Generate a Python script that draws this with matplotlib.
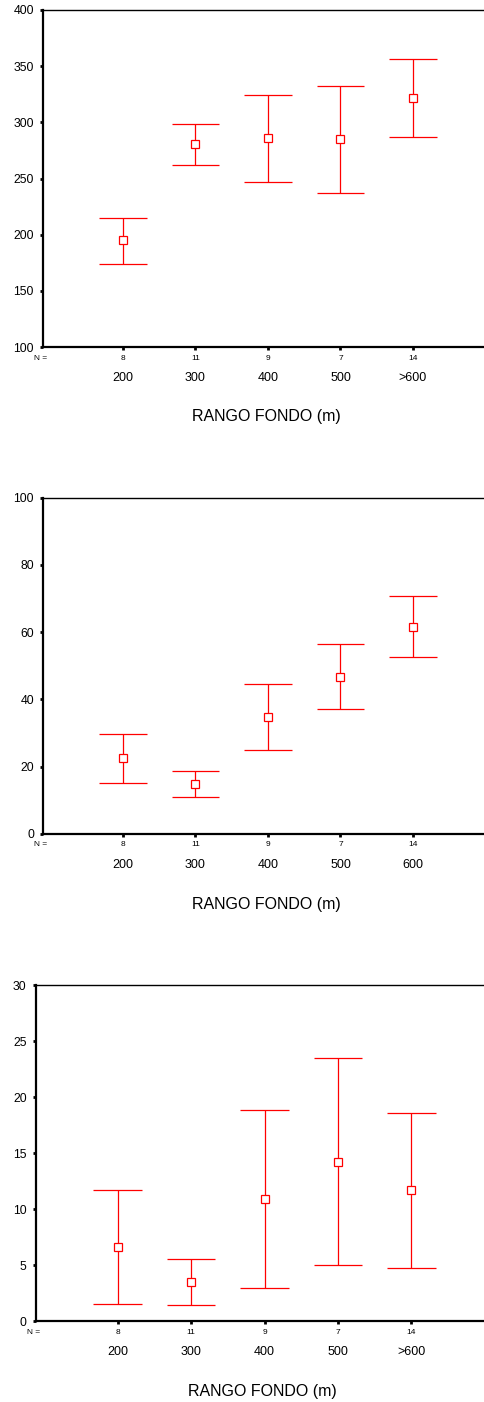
import matplotlib.pyplot as plt

plt.rcParams['font.family'] = ['Liberation Sans', 'DejaVu Sans']

# datos (media y limites del intervalo)
n_counts = [8, 11, 9, 7, 14]
cats_a = ["200", "300", "400", "500", ">600"]
cats_b = ["200", "300", "400", "500", "600"]

mean_1 = [195.0, 280.6, 286.0, 285.0, 321.6]
low_1 = [174.3, 262.2, 246.5, 237.2, 287.1]
high_1 = [215.0, 298.7, 324.6, 332.0, 356.0]

mean_2 = [22.7, 15.0, 34.8, 46.7, 61.6]
low_2 = [15.3, 11.1, 25.1, 37.3, 52.6]
high_2 = [29.6, 18.8, 44.6, 56.5, 70.7]

mean_3 = [6.6, 3.54, 10.95, 14.2, 11.7]
low_3 = [1.55, 1.46, 3.0, 5.0, 4.8]
high_3 = [11.7, 5.6, 18.9, 23.5, 18.6]

RED = "#ff0000"
W, H = 484, 1402


def panel(fig, rect_px, xlim, ylim, yticks, cats, mean, low, high):
    left, top, bottom = rect_px
    ax = fig.add_axes([left / W, 1 - bottom / H, 1 - left / W, (bottom - top) / H])
    pos = list(range(1, len(cats) + 1))

    ax.vlines(pos, low, high, color=RED, lw=0.9, zorder=2)
    ax.hlines(low, [p - 0.33 for p in pos], [p + 0.33 for p in pos], color=RED, lw=0.9, zorder=2)
    ax.hlines(high, [p - 0.33 for p in pos], [p + 0.33 for p in pos], color=RED, lw=0.9, zorder=2)
    ax.plot(pos, mean, ls="none", marker="s", ms=5.2, mfc="white", mec=RED, mew=0.9, zorder=3)

    ax.set_xlim(*xlim)
    ax.set_ylim(*ylim)
    ax.set_yticks(yticks)
    ax.set_yticklabels([str(t) for t in yticks], fontsize=8.8)
    ax.set_xticks(pos)
    ax.set_xticklabels([])

    ax.spines["right"].set_visible(False)
    ax.spines["left"].set_linewidth(1.6)
    ax.spines["bottom"].set_linewidth(1.6)
    ax.spines["top"].set_linewidth(1.0)
    ax.tick_params(axis="y", direction="out", length=2.5, width=2, pad=4)
    ax.tick_params(axis="x", direction="out", length=2.5, width=2)

    for p, n, c in zip(pos, n_counts, cats):
        ax.annotate(str(n), (p, 0), xycoords=("data", "axes fraction"),
                    xytext=(0, -11 * 0.72), textcoords="offset points",
                    ha="center", va="center", fontsize=6)
        ax.annotate(c, (p, 0), xycoords=("data", "axes fraction"),
                    xytext=(0, -31 * 0.72), textcoords="offset points",
                    ha="center", va="center", fontsize=9)
    ax.annotate("N =", (0, 0), xycoords="axes fraction",
                xytext=(-2 * 0.72, -11 * 0.72), textcoords="offset points",
                ha="center", va="center", fontsize=6)
    ax.annotate("RANGO FONDO (m)", (0.5, 0), xycoords="axes fraction",
                xytext=(3 * 0.72, -70 * 0.72), textcoords="offset points",
                ha="center", va="center", fontsize=11.5)
    return ax


fig = plt.figure(figsize=(W / 100, H / 100), dpi=100)

panel(fig, (43, 10, 347), (-0.103, 5.98), (100, 400), [100, 150, 200, 250, 300, 350, 400],
      cats_a, mean_1, low_1, high_1)
panel(fig, (43, 497.7, 834), (-0.103, 5.98), (0, 100), [0, 20, 40, 60, 80, 100],
      cats_b, mean_2, low_2, high_2)
panel(fig, (35.7, 985.3, 1321.3), (-0.117, 5.99), (0, 30), [0, 5, 10, 15, 20, 25, 30],
      cats_a, mean_3, low_3, high_3)

fig.savefig("out.png", dpi=100)
